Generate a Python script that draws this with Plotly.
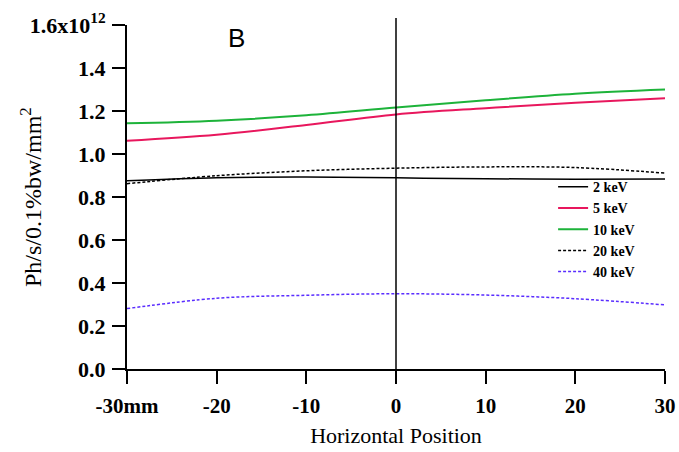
import plotly.graph_objects as go

x_mm = [-30, -20, -10, 0, 10, 20, 30]
flux_2kev = [0.876, 0.890, 0.893, 0.889, 0.885, 0.883, 0.884]
flux_5kev = [1.062, 1.090, 1.135, 1.184, 1.213, 1.238, 1.259]
flux_10kev = [1.143, 1.155, 1.180, 1.216, 1.250, 1.280, 1.300]
flux_20kev = [0.862, 0.899, 0.922, 0.934, 0.940, 0.937, 0.911]
flux_40kev = [0.281, 0.329, 0.343, 0.350, 0.344, 0.327, 0.298]

y_tickvals = [0.0, 0.2, 0.4, 0.6, 0.8, 1.0, 1.2, 1.4, 1.6]
y_ticktext = ["0.0", "0.2", "0.4", "0.6", "0.8", "1.0", "1.2", "1.4", "1.6x10<sup>12</sup>"]
x_tickvals = [-30, -20, -10, 0, 10, 20, 30]
x_ticktext = ["-30mm", "-20", "-10", "0", "10", "20", "30"]

serif = "Liberation Serif, Times New Roman, serif"

fig = go.Figure()
series = [
    ("2 keV", flux_2kev, "#000000", "solid", 1.5),
    ("5 keV", flux_5kev, "#e8175d", "solid", 2),
    ("10 keV", flux_10kev, "#1db33a", "solid", 2),
    ("20 keV", flux_20kev, "#000000", "3px,2px", 1.5),
    ("40 keV", flux_40kev, "#5a2dff", "3px,2px", 1.5),
]
for name, ys, col, dash, w in series:
    fig.add_trace(go.Scatter(x=x_mm, y=ys, mode="lines", name=name,
                             line=dict(color=col, dash=dash, width=w, shape="spline")))

fig.add_shape(type="line", xref="x", yref="paper", x0=0, x1=0, y0=0, y1=1.02,
              line=dict(color="black", width=1.5))

fig.add_annotation(x=-17.8, y=1.54, text="B", showarrow=False,
                   font=dict(family="Liberation Sans, Arial, sans-serif", size=26, color="black"))

# y-axis title placed as rotated text
fig.add_annotation(xref="paper", yref="paper", x=(31 - 127) / 538, y=0.5,
                   xanchor="center", yanchor="middle",
                   text="Ph/s/0.1%bw/mm<sup>2</sup>", textangle=-90, showarrow=False,
                   font=dict(family=serif, size=24, color="black"))

fig.update_layout(
    width=679, height=452,
    margin=dict(l=127, r=14, t=25, b=83),
    plot_bgcolor="white", paper_bgcolor="white",
    font=dict(family=serif, color="black"),
    showlegend=True,
    legend=dict(x=0.792, y=0.575, xanchor="left", yanchor="top",
                bgcolor="rgba(0,0,0,0)", tracegroupgap=0,
                font=dict(family=serif, size=14, color="black", weight="bold"),
                itemwidth=30),
    xaxis=dict(range=[-30, 30], tickvals=x_tickvals, ticktext=x_ticktext, automargin=False,
               showgrid=False, zeroline=False, showline=True, linecolor="black", linewidth=2,
               ticks="outside", ticklen=13, tickwidth=2, tickcolor="black",
               ticklabelstandoff=4,
               tickfont=dict(size=21, weight="bold"),
               title=dict(text="Horizontal Position", font=dict(size=22), standoff=10)),
    yaxis=dict(range=[0, 1.6], tickvals=y_tickvals, ticktext=y_ticktext, automargin=False,
               showgrid=False, zeroline=False, showline=True, linecolor="black", linewidth=2,
               ticks="outside", ticklen=13, tickwidth=2, tickcolor="black",
               ticklabelstandoff=2,
               tickfont=dict(size=22, weight="bold")),
)

fig.write_html("out.html")
